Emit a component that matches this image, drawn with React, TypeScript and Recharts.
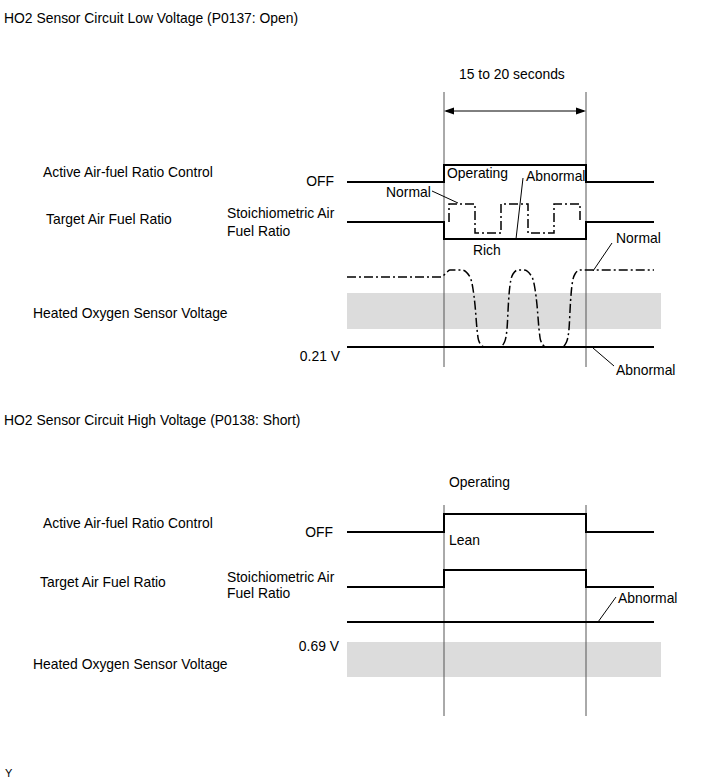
import React from 'react';
import {
  ComposedChart,
  Line,
  XAxis,
  YAxis,
  ReferenceArea,
  Scatter,
} from 'recharts';

// time runs left to right, vertical values are signal levels on the drawing's own scale
const ctrlLow = [
  { x: 347, y: 182 }, { x: 444, y: 182 }, { x: 444, y: 165 },
  { x: 586, y: 165 }, { x: 586, y: 182 }, { x: 654, y: 182 },
];
const targetLow = [
  { x: 347, y: 222 }, { x: 444, y: 222 }, { x: 444, y: 239 },
  { x: 586, y: 239 }, { x: 586, y: 222 }, { x: 654, y: 222 },
];
const targetNormal = [
  { x: 449, y: 222 }, { x: 449, y: 204 }, { x: 475, y: 204 }, { x: 475, y: 233 },
  { x: 501, y: 233 }, { x: 501, y: 204 }, { x: 528, y: 204 }, { x: 528, y: 233 },
  { x: 554, y: 233 }, { x: 554, y: 204 }, { x: 580, y: 204 }, { x: 580, y: 222 },
];
const sensorNormal = [
  { x: 347, y: 277 }, { x: 441, y: 277 }, { x: 447, y: 272 }, { x: 450, y: 270 },
  { x: 462, y: 270 }, { x: 470, y: 277 }, { x: 473, y: 289 }, { x: 475, y: 305 },
  { x: 477, y: 329 }, { x: 478.5, y: 340 }, { x: 483, y: 346.5 }, { x: 487, y: 347 },
  { x: 500, y: 347 }, { x: 504.5, y: 342 }, { x: 507, y: 329 }, { x: 508.5, y: 302 },
  { x: 510, y: 285 }, { x: 513, y: 274 }, { x: 518, y: 270 }, { x: 524, y: 270 },
  { x: 532, y: 277 }, { x: 535, y: 289 }, { x: 537, y: 305 }, { x: 539, y: 329 },
  { x: 540.5, y: 340 }, { x: 545, y: 346.5 }, { x: 549, y: 347 }, { x: 562, y: 347 },
  { x: 566.5, y: 342 }, { x: 569, y: 329 }, { x: 570.5, y: 302 }, { x: 572, y: 285 },
  { x: 575, y: 274 }, { x: 580, y: 270 }, { x: 654, y: 270 },
];
const sensorAbnLow = [{ x: 347, y: 347 }, { x: 654, y: 347 }];

const ctrlHigh = [
  { x: 347, y: 532 }, { x: 444, y: 532 }, { x: 444, y: 514 },
  { x: 586, y: 514 }, { x: 586, y: 532 }, { x: 654, y: 532 },
];
const targetHigh = [
  { x: 347, y: 587 }, { x: 444, y: 587 }, { x: 444, y: 570 },
  { x: 586, y: 570 }, { x: 586, y: 587 }, { x: 654, y: 587 },
];
const sensorAbnHigh = [{ x: 347, y: 622 }, { x: 654, y: 622 }];

const markersLow = [
  [{ x: 444, y: 92 }, { x: 444, y: 367 }],
  [{ x: 586, y: 92 }, { x: 586, y: 367 }],
];
const markersHigh = [
  [{ x: 444, y: 505 }, { x: 444, y: 716 }],
  [{ x: 586, y: 505 }, { x: 586, y: 716 }],
];
const spanArrow = [{ x: 446, y: 111 }, { x: 584, y: 111 }];

const leaders = [
  [{ x: 432, y: 191 }, { x: 458, y: 203 }],
  [{ x: 523, y: 178 }, { x: 516, y: 239 }],
  [{ x: 593, y: 271 }, { x: 612, y: 243 }],
  [{ x: 593, y: 348 }, { x: 614, y: 366 }],
  [{ x: 598, y: 622 }, { x: 616, y: 597 }],
];

const bands = [
  { y1: 293, y2: 329 },
  { y1: 642, y2: 677 },
];

const labels = [
  { text: 'HO2 Sensor Circuit Low Voltage (P0137: Open)', x: 4, y: 18 },
  { text: '15 to 20 seconds', x: 459, y: 74 },
  { text: 'Active Air-fuel Ratio Control', x: 43, y: 172 },
  { text: 'OFF', x: 334, y: 181, right: true },
  { text: 'Operating', x: 447, y: 173 },
  { text: 'Abnormal', x: 526, y: 176 },
  { text: 'Normal', x: 386, y: 192 },
  { text: 'Target Air Fuel Ratio', x: 46, y: 219 },
  { text: 'Stoichiometric Air', x: 227, y: 213 },
  { text: 'Fuel Ratio', x: 227, y: 231 },
  { text: 'Rich', x: 473, y: 250 },
  { text: 'Normal', x: 616, y: 238 },
  { text: 'Heated Oxygen Sensor Voltage', x: 33, y: 313 },
  { text: '0.21 V', x: 340, y: 356, right: true },
  { text: 'Abnormal', x: 616, y: 370 },
  { text: 'HO2 Sensor Circuit High Voltage (P0138: Short)', x: 4, y: 420 },
  { text: 'Operating', x: 449, y: 482 },
  { text: 'Active Air-fuel Ratio Control', x: 43, y: 523 },
  { text: 'OFF', x: 333, y: 532, right: true },
  { text: 'Lean', x: 449, y: 540 },
  { text: 'Target Air Fuel Ratio', x: 40, y: 582 },
  { text: 'Stoichiometric Air', x: 227, y: 577 },
  { text: 'Fuel Ratio', x: 227, y: 593 },
  { text: 'Abnormal', x: 618, y: 598 },
  { text: '0.69 V', x: 339, y: 646, right: true },
  { text: 'Heated Oxygen Sensor Voltage', x: 33, y: 664 },
];

const W = 713;
const H = 782;
const FONT = '"Liberation Sans", Arial, sans-serif';

const arrowLeft = (p: any) => (
  <path d={`M${p.cx - 2},${p.cy} l10,-3.5 l0,7 z`} fill="#000" />
);
const arrowRight = (p: any) => (
  <path d={`M${p.cx + 2},${p.cy} l-10,-3.5 l0,7 z`} fill="#000" />
);

const seg = (data: any[], key: string, props: any) => (
  <Line
    key={key}
    data={data}
    dataKey="y"
    type="linear"
    dot={false}
    activeDot={false}
    isAnimationActive={false}
    {...props}
  />
);

export default function App() {
  return (
    <div style={{ position: 'absolute', left: 0, top: 0, width: W, height: H, background: '#fff', fontFamily: FONT }}>
      <ComposedChart width={W} height={H} margin={{ top: 0, right: 0, bottom: 0, left: 0 }}>
        <XAxis type="number" dataKey="x" domain={[0, W]} hide allowDataOverflow />
        <YAxis type="number" domain={[0, H]} reversed hide allowDataOverflow />
        {bands.map((b, i) => (
          <ReferenceArea key={'b' + i} x1={347} x2={661} y1={b.y1} y2={b.y2} fill="#dcdcdc" fillOpacity={1} stroke="none" />
        ))}
        {[...markersLow, ...markersHigh].map((m, i) => seg(m, 'm' + i, { stroke: '#555', strokeWidth: 1 }))}
        {seg(spanArrow, 'span', { stroke: '#000', strokeWidth: 1 })}
        {leaders.map((l, i) => seg(l, 'l' + i, { stroke: '#000', strokeWidth: 1 }))}
        {seg(ctrlLow, 'cl', { stroke: '#000', strokeWidth: 2 })}
        {seg(targetLow, 'tl', { stroke: '#000', strokeWidth: 2 })}
        {seg(targetNormal, 'tn', { stroke: '#000', strokeWidth: 1.5, strokeDasharray: '9 3 2 3' })}
        {seg(sensorNormal, 'sn', { stroke: '#000', strokeWidth: 1.5, strokeDasharray: '9 3 2 3', type: 'monotoneX' })}
        {seg(sensorAbnLow, 'sa', { stroke: '#000', strokeWidth: 2 })}
        {seg(ctrlHigh, 'ch', { stroke: '#000', strokeWidth: 2 })}
        {seg(targetHigh, 'th', { stroke: '#000', strokeWidth: 2 })}
        {seg(sensorAbnHigh, 'sh', { stroke: '#000', strokeWidth: 2 })}
        <Scatter data={[spanArrow[0]]} dataKey="y" shape={arrowLeft} isAnimationActive={false} />
        <Scatter data={[spanArrow[1]]} dataKey="y" shape={arrowRight} isAnimationActive={false} />
      </ComposedChart>
      {labels.map((l, i) => (
        <div
          key={i}
          style={{
            position: 'absolute',
            left: l.right ? undefined : l.x,
            right: l.right ? W - l.x : undefined,
            top: l.y - 8,
            fontSize: 13.9,
            lineHeight: '16px',
            whiteSpace: 'nowrap',
            color: '#000',
          }}
        >
          {l.text}
        </div>
      ))}
      <div style={{ position: 'absolute', left: 5, top: 766, fontSize: 11, lineHeight: '14px' }}>Y</div>
    </div>
  );
}
